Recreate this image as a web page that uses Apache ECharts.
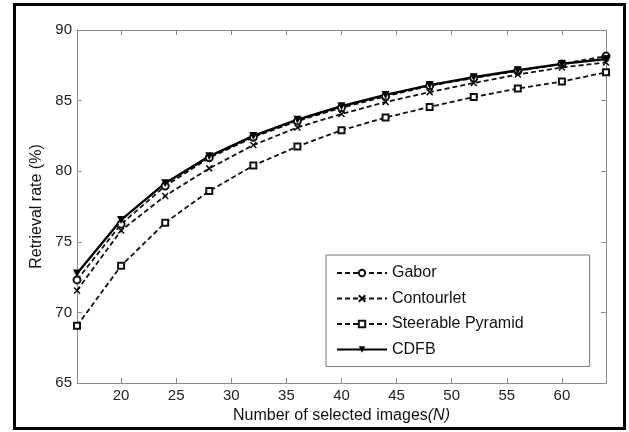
<!DOCTYPE html>
<html>
<head>
<meta charset="utf-8">
<script src="https://cdn.jsdelivr.net/npm/echarts@6/dist/echarts.min.js"></script>
<style>
html,body{margin:0;padding:0;background:#fff;}
#chart{width:629px;height:432px;}
</style>
</head>
<body>
<div id="chart"></div>
<script>
// number of selected images N
const nValues = [16, 20, 24, 28, 32, 36, 40, 44, 48, 52, 56, 60, 64];
const gabor = [72.3, 76.25, 78.95, 80.95, 82.4, 83.55, 84.5, 85.3, 86.05, 86.6, 87.1, 87.6, 88.15];
const contourlet = [71.55, 75.8, 78.25, 80.2, 81.85, 83.1, 84.05, 84.9, 85.6, 86.25, 86.85, 87.35, 87.7];
const steerable = [69.05, 73.3, 76.35, 78.6, 80.4, 81.75, 82.9, 83.8, 84.55, 85.25, 85.85, 86.35, 87.0];
const cdfb = [72.75, 76.55, 79.15, 81.05, 82.5, 83.65, 84.6, 85.4, 86.1, 86.65, 87.15, 87.6, 87.95];
const xTicks = [20, 25, 30, 35, 40, 45, 50, 55, 60];
const yTicks = [65, 70, 75, 80, 85, 90];

const FONT = '"Liberation Sans", Arial, sans-serif';
const axisGray = '#8a8a8a';
const crossPath = 'path://M0,0L10,10M10,0L0,10';

function pairs(ys) {
    return nValues.map((n, i) => [n, ys[i]]);
}

const baseX = {
    type: 'value', min: 16, max: 64,
    axisLine: {show: true, lineStyle: {color: axisGray, width: 1}},
    axisTick: {show: true, inside: true, length: 5, customValues: xTicks, lineStyle: {color: axisGray}},
    splitLine: {show: false}
};
const baseY = {
    type: 'value', min: 65, max: 90, interval: 5,
    axisLine: {show: true, lineStyle: {color: axisGray, width: 1}},
    axisTick: {show: true, inside: true, length: 5, lineStyle: {color: axisGray}},
    splitLine: {show: false}
};

let option = {
    backgroundColor: '#fff',
    animation: false,
    textStyle: {fontFamily: FONT},
    grid: {left: 77, right: 23, top: 30, bottom: 49, containLabel: false},
    graphic: [{
        type: 'rect',
        shape: {x: 14.5, y: 4.5, width: 610, height: 424},
        style: {fill: 'none', stroke: '#000', lineWidth: 3},
        silent: true
    }],
    legend: {
        orient: 'vertical',
        left: 326, top: 255,
        backgroundColor: '#fff',
        borderColor: '#777', borderWidth: 1,
        padding: [10, 66, 9, 10],
        itemWidth: 50, itemHeight: 8, itemGap: 9.5,
        textStyle: {fontSize: 16, color: '#111', fontFamily: FONT},
        data: ['Gabor', 'Contourlet', 'Steerable Pyramid', 'CDFB']
    },
    xAxis: [
        Object.assign({}, baseX, {
            position: 'bottom',
            name: 'Number of selected images{i|(N)}',
            nameLocation: 'middle', nameGap: 21,
            nameTextStyle: {fontSize: 16, color: '#111', fontFamily: FONT,
                rich: {i: {fontStyle: 'italic', fontSize: 16, color: '#111', fontFamily: FONT}}},
            axisLabel: {show: true, customValues: xTicks, fontSize: 15, color: '#222', margin: 5, fontFamily: FONT}
        }),
        Object.assign({}, baseX, {position: 'top', axisLabel: {show: false}})
    ],
    yAxis: [
        Object.assign({}, baseY, {
            position: 'left',
            name: 'Retrieval rate (%)',
            nameLocation: 'middle', nameGap: 27,
            nameTextStyle: {fontSize: 16, color: '#111', fontFamily: FONT},
            axisLabel: {show: true, fontSize: 15, color: '#222', margin: 5, fontFamily: FONT,
                customValues: yTicks}
        }),
        Object.assign({}, baseY, {position: 'right', axisLabel: {show: false}})
    ],
    series: [
        {
            name: 'Gabor', type: 'line', data: pairs(gabor),
            symbol: 'emptyCircle', symbolSize: 7,
            lineStyle: {color: '#111', width: 1.8, type: [5, 3]},
            itemStyle: {color: '#111', borderColor: '#111', borderWidth: 1.8}
        },
        {
            name: 'Contourlet', type: 'line', data: pairs(contourlet),
            symbol: crossPath, symbolSize: 6,
            lineStyle: {color: '#111', width: 1.8, type: [5, 3]},
            itemStyle: {color: '#111', borderColor: '#111', borderWidth: 1.5}
        },
        {
            name: 'Steerable Pyramid', type: 'line', data: pairs(steerable),
            symbol: 'emptyRect', symbolSize: 6,
            lineStyle: {color: '#111', width: 1.8, type: [5, 3]},
            itemStyle: {color: '#111', borderColor: '#111', borderWidth: 1.8}
        },
        {
            name: 'CDFB', type: 'line', data: pairs(cdfb),
            symbol: 'triangle', symbolRotate: 180, symbolSize: 8,
            lineStyle: {color: '#000', width: 2.4, type: 'solid'},
            itemStyle: {color: '#000'}
        }
    ]
};

let myChart = echarts.init(document.getElementById('chart'));
myChart.setOption(option);
</script>
</body>
</html>
